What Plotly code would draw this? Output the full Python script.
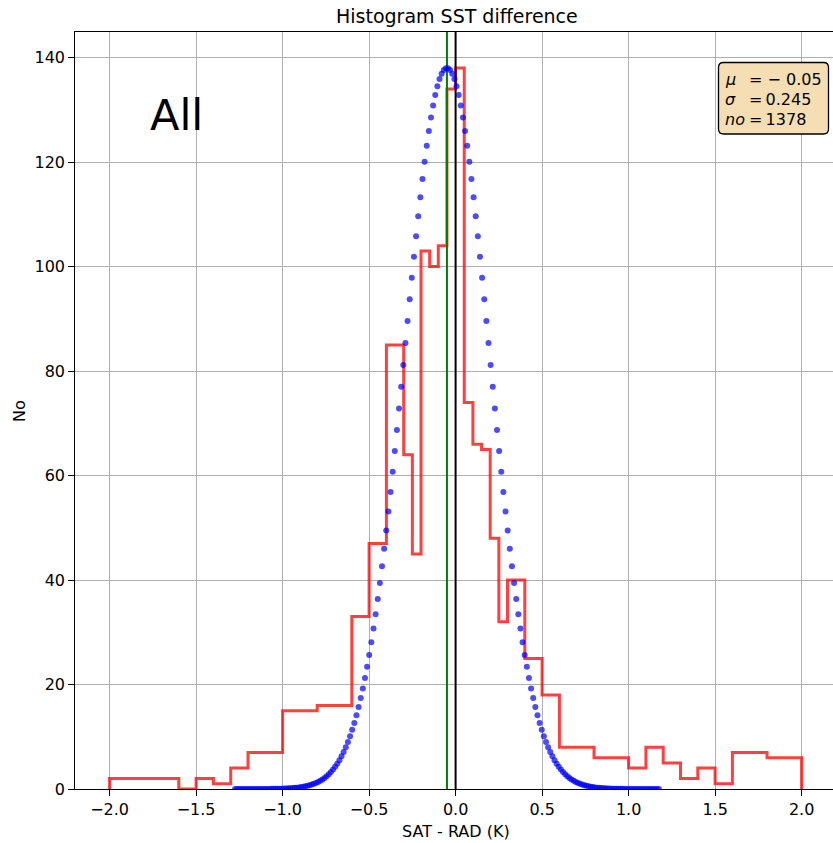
import numpy as np
import plotly.graph_objects as go

# ---- data ----
bin_edges = [-2.0, -1.6, -1.5, -1.4, -1.3, -1.2, -1.0, -0.8, -0.6, -0.5, -0.4, -0.3,
             -0.25, -0.2, -0.15, -0.1, -0.05, 0.0, 0.05, 0.1, 0.15, 0.2, 0.25, 0.3,
             0.4, 0.5, 0.6, 0.8, 1.0, 1.1, 1.2, 1.3, 1.4, 1.5, 1.6, 1.8, 2.0]
bin_counts = [2, 0, 2, 1, 4, 7, 15, 16, 33, 47, 85, 64,
              45, 103, 100, 104, 134, 138, 74, 66, 65, 48, 32,
              40, 25, 18, 8, 6, 4, 8, 5, 2, 4, 1, 7, 6]

# fitted normal curve parameters (from the stats box / picture)
fit_mu = -0.05
fit_sigma = 0.245
fit_peak = 138
fit_n_points = 200
n_obs = 1378

x_ticks = [-2.0, -1.5, -1.0, -0.5, 0.0, 0.5, 1.0, 1.5, 2.0]
x_tick_labels = ["\u22122.0", "\u22121.5", "\u22121.0", "\u22120.5", "0.0", "0.5", "1.0", "1.5", "2.0"]
y_ticks = [0, 20, 40, 60, 80, 100, 120, 140]

# ---- geometry ----
W, H = 833, 843
L, R, T, B = 75, 0, 32, 54
PW, PH = W - L - R, H - T - B
X_MIN = -2.2
X_MAX = X_MIN + PW / 173.0
Y_MAX = 144.9


def px(x):
    return (x - L) / PW


def py(y):
    return (H - B - y) / PH


FONT = "DejaVu Sans"

# step outline of histogram
step_x = [bin_edges[0]] + list(bin_edges)
step_y = [0] + list(bin_counts) + [0]

fit_x = np.linspace(fit_mu - 5 * fit_sigma, fit_mu + 5 * fit_sigma, fit_n_points)
fit_y = fit_peak * np.exp(-((fit_x - fit_mu) ** 2) / (2 * fit_sigma ** 2))

fig = go.Figure()
fig.add_trace(go.Scatter(x=step_x, y=step_y, mode="lines", line_shape="hv",
                         line=dict(color="rgba(255,0,0,0.75)", width=3),
                         hoverinfo="skip", showlegend=False))
fig.add_trace(go.Scatter(x=[fit_mu, fit_mu], y=[0, Y_MAX], mode="lines",
                         line=dict(color="green", width=2), showlegend=False))
fig.add_trace(go.Scatter(x=[0, 0], y=[0, Y_MAX], mode="lines",
                         line=dict(color="black", width=2), showlegend=False))
fig.add_trace(go.Scatter(x=fit_x, y=fit_y, mode="markers",
                         marker=dict(color="rgba(0,0,255,0.7)", size=6, line=dict(width=0)),
                         showlegend=False))

# rounded stats box
bx0, bx1, by0, by1, r = 718.5, 828.5, 62.5, 134.0, 5.0


def pt(x, y):
    return f"{px(x):.5f},{py(y):.5f}"


path = (f"M {pt(bx0 + r, by0)} L {pt(bx1 - r, by0)} Q {pt(bx1, by0)} {pt(bx1, by0 + r)} "
        f"L {pt(bx1, by1 - r)} Q {pt(bx1, by1)} {pt(bx1 - r, by1)} "
        f"L {pt(bx0 + r, by1)} Q {pt(bx0, by1)} {pt(bx0, by1 - r)} "
        f"L {pt(bx0, by0 + r)} Q {pt(bx0, by0)} {pt(bx0 + r, by0)} Z")
fig.add_shape(type="path", path=path, xref="paper", yref="paper",
              fillcolor="wheat", line=dict(color="black", width=1.3), layer="above")

annots = []
box_lines = [
    ("<i>\u03bc</i>", "= \u2212 " + f"{abs(fit_mu):.2f}", 79.5),
    ("<i>\u03c3</i>", "=\u2009" + f"{fit_sigma}", 99.7),
    ("<i>no</i>", "=\u2009" + f"{n_obs}", 119.5),
]
for sym, val, yc in box_lines:
    annots.append(dict(x=px(724), y=py(yc), xref="paper", yref="paper", text=sym,
                       showarrow=False, xanchor="left", yanchor="middle", borderpad=0,
                       font=dict(family=FONT, size=16, color="black")))
    annots.append(dict(x=px(748), y=py(yc), xref="paper", yref="paper", text=val,
                       showarrow=False, xanchor="left", yanchor="middle", borderpad=0,
                       font=dict(family=FONT, size=16, color="black")))

annots.append(dict(x=px(456.5), y=py(16), xref="paper", yref="paper",
                   text="Histogram SST difference", showarrow=False,
                   xanchor="center", yanchor="middle",
                   font=dict(family=FONT, size=19, color="black")))
annots.append(dict(x=px(456), y=py(831), xref="paper", yref="paper",
                   text="SAT - RAD (K)", showarrow=False,
                   xanchor="center", yanchor="middle",
                   font=dict(family=FONT, size=16, color="black")))
annots.append(dict(x=px(19), y=py(411), xref="paper", yref="paper",
                   text="No", showarrow=False, textangle=-90,
                   xanchor="center", yanchor="middle",
                   font=dict(family=FONT, size=16, color="black")))
annots.append(dict(x=px(148), y=py(115), xref="paper", yref="paper",
                   text="All", showarrow=False,
                   xanchor="left", yanchor="middle",
                   font=dict(family=FONT, size=43, color="black")))

fig.update_layout(
    width=W, height=H,
    margin=dict(l=L, r=R, t=T, b=B, pad=0),
    paper_bgcolor="white", plot_bgcolor="white",
    showlegend=False,
    annotations=annots,
    font=dict(family=FONT, size=16, color="black"),
)
fig.update_xaxes(range=[X_MIN, X_MAX], tickvals=x_ticks, ticktext=x_tick_labels,
                 showgrid=True, gridcolor="#b0b0b0", gridwidth=1.3,
                 showline=True, linecolor="black", linewidth=1.3, mirror=True,
                 ticks="outside", ticklen=5.6, tickwidth=1.3, tickcolor="black",
                 zeroline=False, tickfont=dict(family=FONT, size=16, color="black"))
fig.update_yaxes(range=[0, Y_MAX], tickvals=y_ticks,
                 showgrid=True, gridcolor="#b0b0b0", gridwidth=1.3,
                 showline=True, linecolor="black", linewidth=1.3, mirror=False,
                 ticks="outside", ticklen=5.6, tickwidth=1.3, tickcolor="black",
                 zeroline=False, tickfont=dict(family=FONT, size=16, color="black"))

fig.write_html("out.html", config={"displayModeBar": False},
               post_script="document.body.style.margin='0';document.body.style.overflow='hidden';")
